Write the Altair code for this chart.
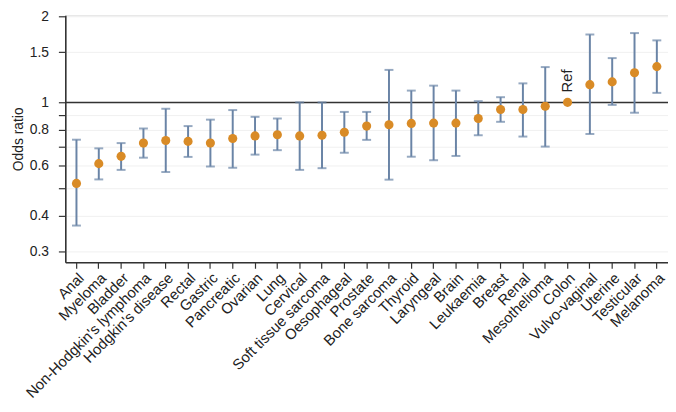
import altair as alt
import pandas as pd

categories = ["Anal", "Myeloma", "Bladder", "Non-Hodgkin's lymphoma", "Hodgkin's disease",
              "Rectal", "Gastric", "Pancreatic", "Ovarian", "Lung", "Cervical",
              "Soft tissue sarcoma", "Oesophageal", "Prostate", "Bone sarcoma", "Thyroid",
              "Laryngeal", "Brain", "Leukaemia", "Breast", "Renal", "Mesothelioma", "Colon",
              "Vulvo-vaginal", "Uterine", "Testicular", "Melanoma"]
odds = [0.52, 0.61, 0.647, 0.72, 0.735, 0.73, 0.72, 0.747, 0.763, 0.77, 0.763,
        0.767, 0.786, 0.826, 0.835, 0.844, 0.846, 0.846, 0.878, 0.944, 0.944, 0.969, 1.0,
        1.154, 1.18, 1.27, 1.335]
lower = [0.37, 0.537, 0.58, 0.64, 0.57, 0.644, 0.596, 0.59, 0.656, 0.68, 0.58,
         0.588, 0.666, 0.739, 0.536, 0.645, 0.627, 0.649, 0.767, 0.855, 0.759, 0.70, None,
         0.775, 0.98, 0.92, 1.08]
upper = [0.74, 0.69, 0.72, 0.81, 0.95, 0.826, 0.87, 0.94, 0.89, 0.878, 1.0,
         1.0, 0.926, 0.926, 1.30, 1.10, 1.145, 1.10, 1.01, 1.043, 1.166, 1.33, None,
         1.73, 1.43, 1.75, 1.65]
y_ticks = [0.3, 0.4, 0.5, 0.6, 0.7, 0.8, 0.9, 1, 1.5, 2]
ref_label = "Ref"
ref_category = "Colon"

df = pd.DataFrame({"cat": categories, "or": odds, "lo": lower, "hi": upper})
ci = df.dropna()
ref_df = pd.DataFrame({"cat": [ref_category], "or": [1.0], "label": [ref_label]})
one_df = pd.DataFrame({"y": [1.0]})

FONT = "Liberation Sans"
BAR = "#6a84a6"
DOT = "#d98b26"

xenc = alt.X("cat:N", sort=categories, title=None,
             scale=alt.Scale(paddingInner=0, paddingOuter=0),
             axis=alt.Axis(labelAngle=-45, labelAlign="right", labelBaseline="top",
                           labelFontSize=15, labelColor="#222", labelPadding=2,
                           tickSize=6, tickColor="#333", tickWidth=1.2,
                           domainColor="#333", domainWidth=1.6, grid=False,
                           labelFont=FONT))
yscale = alt.Scale(type="log", domain=[0.275, 2.02], nice=False, zero=False)
yaxis = alt.Axis(values=y_ticks, format="~g",
                 labelExpr="(datum.value == 0.5 || datum.value == 0.7 || datum.value == 0.9) ? '' : datum.label",
                 title="Odds ratio", titleFontSize=14, titleFontWeight="normal",
                 titleFont=FONT, titleColor="#222", titlePadding=4,
                 labelFontSize=14, labelFont=FONT, labelColor="#222", labelPadding=10,
                 tickSize=7, tickColor="#333", tickWidth=1.2,
                 domainColor="#333", domainWidth=1.6,
                 grid=True, gridColor="#f0f0f0", gridWidth=1)

base_grid = alt.Chart(df).mark_point(opacity=0).encode(
    x=xenc, y=alt.Y("or:Q", scale=yscale, axis=yaxis))

refline = alt.Chart(one_df).mark_rule(color="#333", strokeWidth=1.5).encode(
    y=alt.Y("y:Q", scale=yscale))

bars = alt.Chart(ci).mark_rule(color=BAR, strokeWidth=2).encode(
    x=alt.X("cat:N", sort=categories),
    y=alt.Y("lo:Q", scale=yscale),
    y2="hi:Q")
cap_lo = alt.Chart(ci).mark_tick(color=BAR, size=9, thickness=2, orient="horizontal").encode(
    x=alt.X("cat:N", sort=categories), y=alt.Y("lo:Q", scale=yscale))
cap_hi = alt.Chart(ci).mark_tick(color=BAR, size=9, thickness=2, orient="horizontal").encode(
    x=alt.X("cat:N", sort=categories), y=alt.Y("hi:Q", scale=yscale))

dots = alt.Chart(df).mark_circle(color=DOT, size=85, opacity=1).encode(
    x=alt.X("cat:N", sort=categories), y=alt.Y("or:Q", scale=yscale))

ref_text = alt.Chart(ref_df).mark_text(angle=270, align="left", baseline="middle",
                                       dx=10, fontSize=15, font=FONT, color="#222").encode(
    x=alt.X("cat:N", sort=categories), y=alt.Y("or:Q", scale=yscale), text="label:N")

chart = alt.layer(base_grid, refline, bars, cap_lo, cap_hi, dots, ref_text).properties(
    width=610, height=250,
    autosize=alt.AutoSizeParams(type="none"),
    padding={"left": 58, "top": 5, "right": 0, "bottom": 141},
).configure_view(stroke=None).configure(background="white")

chart.save("out.html", embed_options={"renderer": "svg", "actions": False})
